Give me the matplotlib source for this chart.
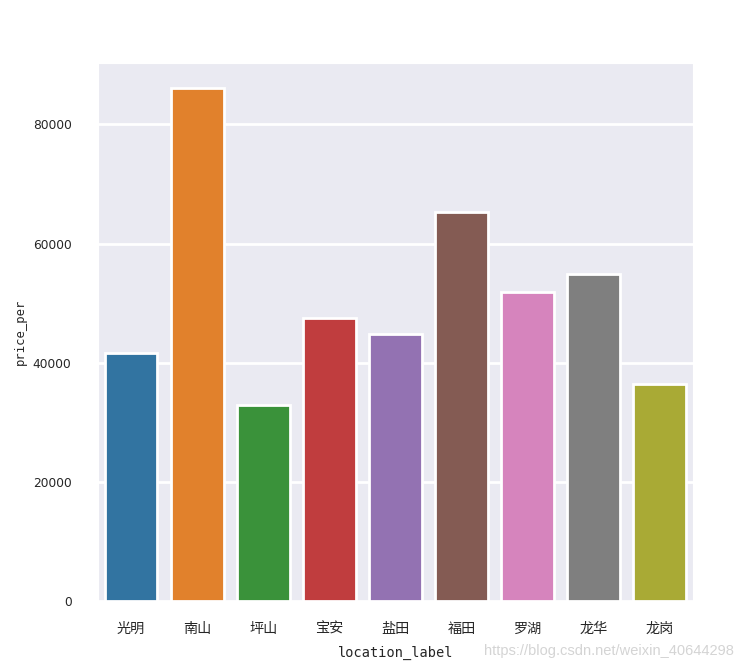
import numpy as np
import matplotlib
matplotlib.use('Agg')
import matplotlib.pyplot as plt
import seaborn as sns

# data
locations = ['光明', '南山', '坪山', '宝安', '盐田', '福田', '罗湖', '龙华', '龙岗']
prices = [41650, 86100, 32950, 47450, 44800, 65250, 51900, 54850, 36500]
yticks = [0, 20000, 40000, 60000, 80000]

sns.set_style('darkgrid')
plt.rcParams['font.family'] = ['Noto Sans CJK SC', 'DejaVu Sans']

fig = plt.figure(figsize=(7.45, 6.71), dpi=100)
ax = fig.add_axes([0.1315, 0.1043, 0.7987, 0.8018])

sns.barplot(x=locations, y=prices, hue=locations, palette='tab10',
            saturation=0.75, edgecolor='white', linewidth=2,
            legend=False, ax=ax)

ax.grid(axis='y', color='white', linewidth=2)
ax.set_ylim(0, 90300)
ax.set_xlim(-0.5, len(locations) - 0.5)
ax.set_yticks(yticks)
ax.set_yticklabels([str(v) for v in yticks], family='DejaVu Sans', size=8.8)
ax.tick_params(axis='y', pad=19, length=0)
ax.tick_params(axis='x', pad=15, length=0, labelsize=10.2)

ax.set_xlabel('location_label', family='DejaVu Sans Mono', size=9.8, labelpad=7)
ax.set_ylabel('price_per', family='DejaVu Sans Mono', size=8.8, labelpad=4)

fig.text(0.985, 0.030, 'https://blog.csdn.net/weixin_40644298', ha='right',
         va='center', color='#d4d4d4', family='Liberation Sans', size=10.5)

fig.savefig('out.png', dpi=100)
